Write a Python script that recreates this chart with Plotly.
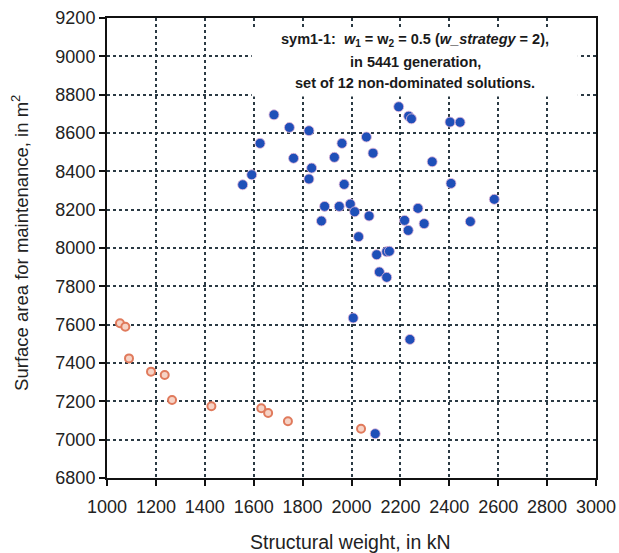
import plotly.graph_objects as go

# Dominated solutions (blue)
blue_x = [1683, 1746, 1826, 1626, 1763, 1961, 2061, 2088, 1930, 1837, 1592, 1826, 1970,
          1890, 1950, 1995, 2013, 1877, 2072, 2029, 2193, 2234, 2245, 2330, 2272, 2217,
          2297, 2232, 2103, 2144, 2155, 2403, 2444, 2407, 2584, 2486, 2114, 2144, 2007,
          2239, 2097, 1555]
blue_y = [8695, 8629, 8612, 8546, 8468, 8546, 8579, 8495, 8473, 8417, 8382, 8360, 8332,
          8217, 8217, 8229, 8189, 8141, 8167, 8059, 8737, 8688, 8674, 8450, 8207, 8144,
          8127, 8092, 7965, 7981, 7983, 8657, 8656, 8337, 8254, 8138, 7875, 7847, 7635,
          7523, 7031, 8330]

# Non-dominated solutions (orange)
orange_x = [1053, 1075, 1090, 1180, 1236, 1266, 1427, 1631, 1659, 1740, 2039]
orange_y = [7607, 7589, 7424, 7355, 7337, 7207, 7174, 7164, 7139, 7096, 7057]

x_ticks = [1000, 1200, 1400, 1600, 1800, 2000, 2200, 2400, 2600, 2800, 3000]
y_ticks = [6800, 7000, 7200, 7400, 7600, 7800, 8000, 8200, 8400, 8600, 8800, 9000, 9200]

info_lines = [
    "sym1-1:  <i>w</i><sub>1</sub> = w<sub>2</sub> = 0.5 (<i>w_strategy</i> = 2),",
    "in 5441 generation,",
    "set of 12 non-dominated solutions.",
]
info_y = [9085, 8970, 8860]

FONT = "Liberation Sans, Arial, sans-serif"

fig = go.Figure()
fig.add_trace(go.Scatter(
    x=blue_x, y=blue_y, mode="markers",
    marker=dict(size=10, color="#1f4fb8", line=dict(width=0.8, color="#e7b8d8")),
    showlegend=False))
fig.add_trace(go.Scatter(
    x=orange_x, y=orange_y, mode="markers",
    marker=dict(size=8, color="#f6d3c6", line=dict(width=2, color="#e07a5c")),
    showlegend=False))

fig.add_shape(type="rect", xref="x", yref="y", x0=1592, x1=2926, y0=8790, y1=9140,
              fillcolor="white", line=dict(width=0), layer="between")

for t, yy in zip(info_lines, info_y):
    fig.add_annotation(
        xref="x", yref="y", x=2260, y=yy, showarrow=False, text="<b>" + t + "</b>",
        xanchor="center", yanchor="middle",
        font=dict(family=FONT, size=14.5, color="#1a1a1a"), align="center")

fig.add_annotation(xref="paper", yref="paper", x=0.497, y=-0.139, showarrow=False,
                   xanchor="center", yanchor="middle",
                   text="Structural weight, in kN",
                   font=dict(family=FONT, size=19.5, color="#222"))
fig.add_annotation(xref="paper", yref="paper", x=-0.178, y=0.511, showarrow=False,
                   xanchor="center", yanchor="middle",
                   textangle=-90, text="Surface area for maintenance, in m<sup>2</sup>",
                   font=dict(family=FONT, size=18.5, color="#222"))

axis_common = dict(
    showline=True, linecolor="#111", linewidth=2, mirror=True,
    showgrid=True, gridcolor="#2b3a44", griddash="dot", gridwidth=1.5,
    ticks="outside", ticklen=6, tickcolor="#111", tickwidth=1.5,
    tickfont=dict(family=FONT, size=18, color="#222"),
    zeroline=False, automargin=False)

fig.update_xaxes(range=[1000, 3000], tickvals=x_ticks, ticktext=[str(v) for v in x_ticks],
                 ticklabelstandoff=5, **axis_common)
fig.update_yaxes(range=[6800, 9200], tickvals=y_ticks, ticktext=[str(v) for v in y_ticks],
                 **axis_common)

fig.update_layout(
    width=619, height=553,
    margin=dict(l=107, r=23, t=18, b=75, autoexpand=False),
    paper_bgcolor="white", plot_bgcolor="white",
    font=dict(family=FONT))

fig.write_html("out.html")
